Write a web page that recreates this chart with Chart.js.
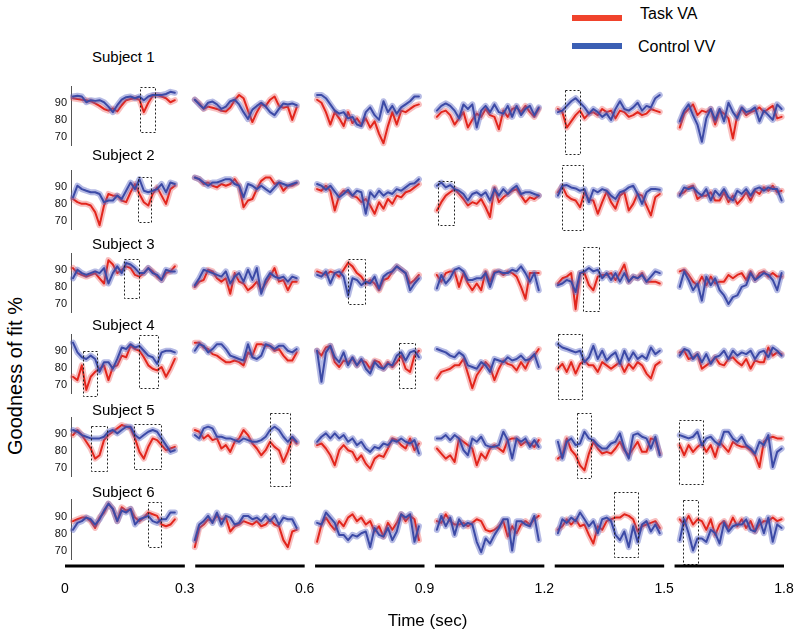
<!DOCTYPE html>
<html>
<head>
<meta charset="utf-8">
<script src="https://cdn.jsdelivr.net/npm/chart.js@4.4.0/dist/chart.umd.min.js"></script>
<style>
  html, body { margin: 0; padding: 0; background: #fff; }
  #figure { position: relative; width: 800px; height: 638px; overflow: hidden;
            font-family: Arial, "Liberation Sans", Helvetica, sans-serif; color: #000; }
  #figure canvas { position: absolute; left: 0; }
  .subject { position: absolute; left: 92px; font-size: 15px; line-height: 15px; white-space: nowrap; }
  #ylabel { position: absolute; left: -85px; top: 365px; width: 200px; text-align: center;
            font-size: 20px; line-height: 22px; transform: rotate(-90deg); white-space: nowrap; }
  .legend-bar { position: absolute; left: 572px; width: 50px; height: 6px; }
  .legend-text { position: absolute; font-size: 16px; line-height: 16px; white-space: nowrap; }
</style>
</head>
<body>
<div id="figure"></div>
<script>
document.addEventListener("DOMContentLoaded", function() {
    const FONT = 'Arial, "Liberation Sans", Helvetica, sans-serif';

    // --- Chart data ---
    const subjects = ['Subject 1', 'Subject 2', 'Subject 3', 'Subject 4', 'Subject 5', 'Subject 6'];
    const seriesNames = ['Task VA', 'Control VV'];
    const timeTicks = [0, 0.3, 0.6, 0.9, 1.2, 1.5, 1.8];
    const yTicks = [70, 80, 90];

    // Task VA (red), six 0.3 s windows per subject
    const taskS1 = [
        [93.1,92.6,92.2,91.9,91.3,90,88.5,86.7,85.7,87,85.2,88.9,91.9,92.6,93.1,92.2,84.8,90.4,94.5,95,94.1,93.1,90.7,91.9],
        [92.2,90,86.7,88.1,87.4,86.7,85.6,85.2,87.6,91.9,95,93.1,85.7,78.9,84.8,89.3,88.5,92.2,94.1,88.5,87.4,88.1,80.2,87.6],
        [92.2,90.4,84.8,77.4,84.8,81.1,76.5,84.8,78.3,81.1,77.4,81.1,75.6,79.3,71.9,66.3,76.5,84.8,77.4,85.7,84.8,86.7,88.5,89.4],
        [82,84.8,85.7,83,77.4,81.1,84.8,75.6,80.2,83.9,82,86.7,83,82,74.6,85.7,82,86.7,87.6,84.8,88.5,84.8,82,86.7],
        [86.7,84.8,75.6,79.3,83,85.7,81.1,83.9,84.8,83,86.7,84.8,85.7,81.1,85.7,84.8,82,83,84.8,83,83.9,86.7,85.7,84.8],
        [75.6,83.9,86.7,89.4,83,85.7,84.8,86.7,77.4,85.7,83.9,81.1,69.1,83,86.7,83,84.8,85.7,87.6,84.8,86.7,88.5,81.1,82]
    ];
    const taskS2 = [
        [83.1,81.2,80.2,80.2,79.2,75.3,67.5,79.2,86.1,85.1,85.1,82.2,81.2,87.1,92,86.1,81.2,79.2,86.1,90,85.1,80.2,89,91],
        [95.9,94.9,92,92.9,91,90,92,91,92,94.9,91,78.2,82.2,83.1,89,93.9,95.9,95.9,92,92.9,88,91,91,92.5],
        [89,88,91,88,76.3,85.1,88,87.1,85.1,84.1,81.2,83.1,79.2,74.3,81.2,77.3,83.1,80.2,85.1,84.1,87.1,88,90,92],
        [76.3,81.2,85.1,87.1,89,86.1,83.1,79.2,81.2,80.2,83.1,78.2,72.4,90,81.2,84.1,86.1,88,89,85.1,81.2,84.1,83.1,85.1],
        [87.1,90.6,85.1,83.1,82.2,78.2,87.1,82.6,82.2,74.3,81.2,87.5,81.2,77.3,85.1,87.1,76.3,80.2,86.1,85.1,79.2,73.3,84.1,86.1],
        [86.1,87.1,90,91,83.1,85.1,85.1,87.1,82.2,82.2,87.1,81.2,85.1,80.2,83.1,87.1,82.2,88,86.1,90,88,91,87.1,88]
    ];
    const taskS3 = [
        [91.4,88.4,87.3,86.3,87.3,88.4,85.3,82.2,96.1,93.5,88.4,90.4,92.4,91.4,87.3,86.3,88.4,91.4,89.4,86.3,84.3,88.4,89.4,92.4],
        [80.2,83.3,84.3,90.4,89.4,85.3,83.3,85.3,76.1,88.4,83.3,82.2,78.2,80.2,83.3,78.2,82.2,86.3,91.4,83.3,84.3,78.2,83.3,83.3],
        [89.4,88.4,87.3,89.4,88.4,86.3,90.4,94.5,92.4,88.4,86.3,82.2,84.3,82.2,78.2,84.3,85.3,89.4,92.4,90.4,88.4,82.2,84.3,87.3],
        [87.3,83.3,88.4,89.4,89.4,80.2,88.4,82.2,78.2,82.2,78.2,89.4,83.3,89.4,89.4,87.3,89.4,88.4,86.3,80.2,73.1,88.4,88.4,88.4],
        [82.2,85.3,86.3,88.4,66.9,88.4,88.4,81.2,78.2,86.3,87.3,87.3,88.4,84.3,88.4,93.5,83.3,86.3,85.3,88.4,83.3,83.3,83.3,82.2],
        [89.4,90.4,87.3,83.3,81.2,86.3,81.2,86.3,82.2,83.3,83.3,87.3,85.3,87.3,88.4,84.3,89.4,84.3,88.4,89.4,86.3,88.4,86.3,86.3]
    ];
    const taskS4 = [
        [74.9,72.9,81.7,67.1,74.9,77.8,79.7,81.7,72.9,80.7,81.7,87.5,86.5,93.3,91.4,90.4,86.5,81.7,79.7,78.7,80.7,74.9,79.7,85.5],
        [95.2,95.2,92.3,91.4,88.4,87.5,85.5,83.6,83.6,84.6,83.6,81.7,89.4,87.5,94.3,94.3,93.3,93.3,90.4,91.4,87.5,84.6,84.6,89.4],
        [90.4,87.5,92.3,93.3,83.6,80.7,84.6,83.6,85.5,81.7,84.6,83.6,79.7,84.6,83.6,79.7,83.6,80.7,83.6,87.5,79.7,77.8,87.5,90.4],
        [73.9,77.8,78.7,79.7,81.7,81.7,85.5,76.8,68.1,75.8,79.7,83.6,80.7,72.9,79.7,84.6,82.6,81.7,78.7,83.6,79.7,85.5,87.5,91.4],
        [79.7,82.6,77.8,83.6,76.8,82.6,84.6,81.7,81.7,77.8,83.6,81.7,79.7,81.7,83.6,77.8,82.6,79.7,83.6,81.7,76.8,73.9,81.7,83.6],
        [89.4,90.4,85.5,86.5,88.4,79.7,81.7,83.6,86.5,82.6,81.7,85.5,86.5,83.6,81.7,85.5,79.7,84.6,83.6,83.6,92.3,87.5,89.4,88.4]
    ];
    const taskS5 = [
        [89.6,92.6,89.6,85.6,81.6,75.6,77.6,86.6,89.6,91.6,93.6,95.6,94.6,93.6,87.6,79.6,75.6,82.6,87.6,86.6,83.6,80.6,81.6,82.6],
        [92.6,91.6,87.6,89.6,86.6,87.6,81.6,83.6,79.6,85.6,87.6,92.6,89.6,84.6,81.6,77.6,80.6,85.6,82.6,80.6,73.6,79.6,87.6,84.6],
        [83.6,84.6,81.6,77.6,71.6,80.6,83.6,80.6,79.6,74.6,77.6,72.6,69.6,75.6,77.6,76.6,81.6,87.6,86.6,83.6,81.6,87.6,80.6,84.6],
        [81.6,78.6,75.6,77.6,73.6,87.6,85.6,83.6,81.6,71.6,78.6,75.6,81.6,83.6,81.6,79.6,86.6,87.6,87.6,83.6,85.6,84.6,82.6,86.6],
        [75.6,77.6,87.6,80.6,77.6,71.6,68.6,78.6,85.6,81.6,78.6,79.6,78.6,81.6,85.6,80.6,77.6,81.6,85.6,79.6,79.6,87.6,86.6,78.6],
        [83.6,77.6,83.6,79.6,82.6,84.6,79.6,83.6,76.6,85.6,82.6,79.6,85.6,83.6,82.6,82.6,80.6,77.6,70.6,85.6,87.6,88.6,87.6,87.6]
    ];
    const taskS6 = [
        [87.3,88.4,89.4,89.4,87.3,83.3,89.4,92.4,97.6,94.5,87.3,95.5,93.5,94.5,89.4,87.3,89.4,92.4,91.4,90.4,85.3,84.3,85.3,88.4],
        [72,83.3,85.3,88.4,87.3,90.4,88.4,89.4,81.2,84.3,85.3,87.3,86.3,85.3,87.3,84.3,85.3,88.4,85.3,84.3,76.1,72,81.2,82.2],
        [75.1,85.3,89.4,85.3,82.2,87.3,84.3,89.4,91.4,87.3,89.4,85.3,87.3,81.2,84.3,78.2,86.3,82.2,86.3,91.4,87.3,90.4,88.4,76.1],
        [87.3,86.3,91.4,87.3,85.3,85.3,86.3,84.3,86.3,88.4,87.3,82.2,81.2,82.2,84.3,87.3,78.2,84.3,80.2,85.3,87.3,85.3,88.4,90.4],
        [82.2,84.3,88.4,85.3,88.4,84.3,85.3,79.2,74.1,84.3,82.2,87.3,88.4,89.4,89.4,91.4,90.4,88.4,81.2,84.3,85.3,86.3,87.3,83.3],
        [88.4,85.3,90.4,85.3,88.4,87.3,82.2,88.4,79.2,85.3,87.3,83.3,89.4,84.3,88.4,83.3,87.3,81.2,85.3,87.3,87.3,89.4,87.3,88.4]
    ];

    // Control VV (blue)
    const controlS1 = [
        [94.1,94.5,94.1,90.7,91.9,91.5,91.9,90.7,88.1,84.8,88.9,92.2,93.7,94.1,93.1,94.1,91.9,94.1,95,95,95,95.6,96.9,96.3],
        [92.2,89.4,87,90.4,91.1,89.4,86.7,88.1,91.3,92.2,89.4,84.8,80.7,86.3,88.5,90.4,88.1,84.8,83,86.7,90,89.4,90,88.9],
        [95,95,93.1,89.4,85.7,83.9,84.8,81.1,82,77.4,76.5,84.8,87.6,83,80.2,91.3,84.8,88.5,83.9,87.6,89.4,91.3,94.1,94.1],
        [85.7,88.5,90,88.5,85.7,81.1,89.4,86.7,89.4,75.6,85.7,88.5,84.8,89.4,84.8,83.9,88.5,82,88.5,83,86.7,88.5,83,87.6],
        [84.8,85.7,88.5,91.3,93.1,90.4,87.6,83.9,86.7,84.8,82,83.9,80.2,86.7,91.3,86.7,85.7,87.6,90.4,85.7,88.5,87.6,93.1,95],
        [79.3,85.7,89.4,83,77.4,67.2,81.1,86.7,80.2,86.7,79.3,90.4,84.8,81.1,87.6,84.8,85.7,87.6,79.3,85.7,83,80.2,89.4,86.7]
    ];
    const controlS2 = [
        [84.1,91,89,88,87.1,87.1,86.1,81.2,82.2,82.2,85.1,83.1,88,92.9,89,94.9,88,87.1,88,89,92,87.1,92.9,92],
        [95.9,94.9,92.9,91,92.9,92.9,93.9,94.9,94.9,92,91,84.1,92,91,89,91,89,87.1,90,92.9,92,91,92,92.9],
        [92,91,88.6,91,87.5,84.1,86.1,88.6,85.1,88,87.1,74.3,87.1,84.1,88,85.1,87.1,86.1,89,88,90,92,92.5,94.9],
        [91,92.9,90,91.4,89,88,86.1,82.2,86.1,87.1,85.1,87.1,82.2,89,85.1,89,86.1,89,91,86.1,87.1,87.1,86.1,85.1],
        [85.1,91,91.4,90,89.4,88,89,81.2,88.6,87.1,89,88,85.1,83.1,87.1,88,90,91,86.1,80.2,87.1,89,89,88.6],
        [85.1,90,89,90,87.1,85.1,89,82.2,88,85.1,89,84.1,82.2,88,86.1,89,85.1,89,90,88,90,89,89,82.2]
    ];
    const controlS3 = [
        [85.3,90.4,88.4,87.3,88.4,89.4,88.4,91.4,82.2,88.4,92.4,88.4,94.5,93.5,91.4,88.4,88.4,91.4,88.4,87.3,84.3,90.4,89.4,89.4],
        [81.2,85.3,90.4,89.4,88.4,87.3,86.3,89.4,82.2,86.3,88.4,83.3,90.4,84.3,91.4,76.1,84.3,88.4,86.3,85.3,86.3,83.3,86.3,85.3],
        [87.3,86.3,89.4,82.2,88.4,89.4,86.3,75.1,85.3,84.3,81.2,83.3,82.2,86.3,79.2,86.3,88.4,89.4,92.4,90.4,88.4,78.2,82.2,85.3],
        [79.2,87.3,82.2,85.3,90.4,91.4,89.4,84.3,84.3,85.3,85.3,88.4,80.2,88.4,89.4,88.4,88.4,90.4,89.4,92.4,88.4,83.3,88.4,78.2],
        [81.2,82.2,84.3,83.3,77.1,88.4,89.4,91.4,89.4,90.4,85.3,88.4,84.3,88.4,83.3,88.4,83.3,86.3,85.3,87.3,83.3,86.3,89.4,88.4],
        [80.2,89.4,84.3,78.2,82.2,72,86.3,81.2,85.3,78.2,75.1,70,74.1,75.1,80.2,81.2,88.4,84.3,86.3,88.4,87.3,84.3,78.2,88.4]
    ];
    const controlS4 = [
        [95.2,89.4,86.5,85.5,87.5,85.5,77.8,83.6,83.6,79.7,85.5,92.3,91.4,94.3,92.3,93.3,90.4,87.5,86.5,82.6,89.4,90.4,90.4,89.4],
        [90.4,94.3,93.3,89.4,91.4,94.3,94.3,91.4,87.5,86.5,85.5,84.6,94.3,86.5,85.5,87.5,94.3,93.3,91.4,93.3,93.3,90.4,89.4,91.4],
        [90.4,71.9,89.4,93.3,86.5,83.6,89.4,81.7,86.5,81.7,85.5,79.7,76.8,83.6,80.7,79.7,82.6,81.7,87.5,89.4,84.6,89.4,90.4,86.5],
        [91.4,90.4,89.4,87.5,86.5,89.4,87.5,81.7,80.7,79.7,83.6,81.7,77.8,85.5,84.6,83.6,86.5,84.6,85.5,87.5,84.6,85.5,88.4,80.7],
        [94.3,92.3,91.4,90.4,89.4,90.4,83.6,86.5,93.3,85.5,90.4,84.6,87.5,89.4,82.6,90.4,84.6,89.4,85.5,87.5,85.5,92.3,88.4,90.4],
        [87.5,91.4,90.4,85.5,88.4,83.6,88.4,82.6,86.5,87.5,90.4,85.5,90.4,87.5,89.4,88.4,90.4,85.5,89.4,90.4,86.5,92.3,90.4,87.5]
    ];
    const controlS5 = [
        [92.6,91.6,89.6,88.6,87.6,87.6,87.6,88.6,91.6,92.6,90.6,92.6,94.6,94.6,89.6,87.6,89.6,91.6,92.6,91.6,87.6,83.6,79.6,80.6],
        [89.6,87.6,93.6,94.6,93.6,88.6,88.6,87.6,87.6,86.6,85.6,87.6,86.6,85.6,85.6,86.6,88.6,92.6,94.6,92.6,88.6,85.6,88.6,85.6],
        [85.6,88.6,90.6,87.6,90.6,87.6,89.6,85.6,87.6,83.6,85.6,81.6,79.6,82.6,81.6,84.6,83.6,86.6,85.6,87.6,85.6,84.6,86.6,78.6],
        [87.6,87.6,89.6,86.6,89.6,87.6,80.6,77.6,87.6,85.6,88.6,83.6,82.6,82.6,83.6,91.6,86.6,75.6,87.6,85.6,87.6,82.6,86.6,82.6],
        [85.6,75.6,85.6,87.6,83.6,84.6,91.6,87.6,86.6,83.6,81.6,81.6,84.6,85.6,90.6,81.6,75.6,89.6,90.6,88.6,87.6,81.6,88.6,77.6],
        [89.6,88.6,87.6,88.6,91.6,83.6,87.6,88.6,85.6,83.6,91.6,91.6,87.6,85.6,88.6,83.6,81.6,78.6,85.6,83.6,89.6,70.6,79.6,81.6]
    ];
    const controlS6 = [
        [82.2,86.3,87.3,89.4,88.4,85.3,88.4,93.5,97.6,94.5,87.3,93.5,92.4,94.5,85.3,88.4,89.4,90.4,87.3,86.3,88.4,88.4,92.4,92.4],
        [76.1,85.3,87.3,90.4,86.3,92.4,85.3,90.4,89.4,85.3,86.3,90.4,90.4,88.4,89.4,87.3,90.4,87.3,90.4,85.3,89.4,88.4,88.4,83.3],
        [86.3,85.3,92.4,89.4,86.3,79.2,79.2,76.1,79.2,78.2,80.2,81.2,72,83.3,79.2,78.2,83.3,76.1,81.2,91.4,89.4,91.4,75.1,84.3],
        [82.2,90.4,84.3,89.4,79.2,88.4,84.3,86.3,85.3,75.1,69,77.1,74.1,79.2,83.3,88.4,88.4,70,87.3,87.3,85.3,84.3,90.4,76.1],
        [80.2,88.4,86.3,89.4,87.3,92.4,88.4,84.3,87.3,80.2,88.4,89.4,87.3,79.2,76.1,81.2,72,84.3,75.1,85.3,87.3,81.2,85.3,80.2],
        [76.1,88.4,80.2,70,77.1,77.1,75.1,82.2,80.2,74.1,86.3,81.2,84.3,85.3,85.3,88.4,82.2,81.2,88.4,80.2,89.4,75.1,85.3,83.3]
    ];

    // Dotted windows: [start sec, end sec, low %, high %]
    const boxesS1 = [[0.188, 0.225, 73.1, 100], [1.252, 1.289, 59.8, 98]];
    const boxesS2 = [[0.182, 0.215, 69.2, 96], [0.933, 0.975, 67.5, 94.1], [1.244, 1.298, 64.6, 103.4]];
    const boxesS3 = [[0.148, 0.184, 73.5, 96.8], [0.709, 0.751, 70, 96.8], [1.298, 1.338, 65.8, 104]];
    const boxesS4 = [[0.044, 0.081, 63.4, 90], [0.184, 0.232, 68.3, 99.9], [0.835, 0.876, 68.3, 94.8], [1.234, 1.294, 61.9, 100.3]];
    const boxesS5 = [[0.065, 0.104, 68.5, 95.2], [0.173, 0.24, 69.7, 96.2], [0.513, 0.563, 59.4, 103], [1.283, 1.317, 63.8, 102.6], [1.537, 1.597, 60.3, 98.7]];
    const boxesS6 = [[0.209, 0.24, 71.8, 98.5], [1.375, 1.435, 66, 104.4], [1.548, 1.584, 62.1, 99.5]];

    const taskRows = [taskS1, taskS2, taskS3, taskS4, taskS5, taskS6];
    const controlRows = [controlS1, controlS2, controlS3, controlS4, controlS5, controlS6];
    const boxRows = [boxesS1, boxesS2, boxesS3, boxesS4, boxesS5, boxesS6];

    // --- Layout ---
    const COLORS = {
        taskLine: '#e2261d',
        taskBand: 'rgba(238, 100, 100, 0.42)',
        controlLine: '#3c4aa6',
        controlBand: 'rgba(92, 102, 196, 0.45)',
        taskLegend: '#f0432c',
        controlLegend: '#3b5fb4'
    };
    const ROW_TOP = [86, 170, 253, 334, 417, 499];   // pixel of 100 %
    const SUBJECT_TOP = [49, 147, 236, 317, 402, 484];
    const PANEL_T0 = [0.02, 0.325, 0.631, 0.931, 1.234, 1.539];
    const PANEL_SPAN = 0.255;
    const AXIS_GAP = 0.026;
    const X_MIN = 0.015;      // y axis line sits just right of t = 0
    const Y_AXIS_W = 71;

    const fig = document.getElementById('figure');

    // legend
    [[COLORS.taskLegend, 15, 640, 6], [COLORS.controlLegend, 43, 638, 39]].forEach((spec, i) => {
        const bar = document.createElement('div');
        bar.className = 'legend-bar';
        bar.style.top = spec[1] + 'px';
        bar.style.background = spec[0];
        fig.appendChild(bar);
        const txt = document.createElement('div');
        txt.className = 'legend-text';
        txt.style.left = spec[2] + 'px';
        txt.style.top = spec[3] + 'px';
        txt.textContent = seriesNames[i];
        fig.appendChild(txt);
    });

    const ylab = document.createElement('div');
    ylab.id = 'ylabel';
    ylab.textContent = 'Goodness of fit %';
    fig.appendChild(ylab);

    function toPoints(panels) {
        const pts = [];
        panels.forEach((vals, k) => {
            const step = PANEL_SPAN / (vals.length - 1);
            vals.forEach((v, i) => pts.push({ x: PANEL_T0[k] + i * step, y: v }));
            pts.push({ x: PANEL_T0[k] + PANEL_SPAN + 0.01, y: null });
        });
        return pts;
    }

    const boxPlugin = {
        id: 'dottedBoxes',
        afterDatasetsDraw(chart, args, opts) {
            const { ctx, scales: { x, y } } = chart;
            ctx.save();
            ctx.setLineDash([2, 2]);
            ctx.lineWidth = 1;
            ctx.strokeStyle = '#222';
            (opts.boxes || []).forEach(([t0, t1, lo, hi]) => {
                const x0 = Math.round(x.getPixelForValue(t0)) + 0.5;
                const x1 = Math.round(x.getPixelForValue(t1)) + 0.5;
                const y0 = Math.round(y.getPixelForValue(hi)) + 0.5;
                const y1 = Math.round(y.getPixelForValue(lo)) + 0.5;
                ctx.strokeRect(x0, y0, x1 - x0, y1 - y0);
            });
            ctx.restore();
        }
    };

    const timeAxisPlugin = {
        id: 'timeSegments',
        afterDraw(chart, args, opts) {
            if (!opts.show) return;
            const { ctx, chartArea, scales: { x } } = chart;
            const yPix = chartArea.bottom + 7;
            ctx.save();
            ctx.strokeStyle = '#000';
            ctx.lineWidth = 3;
            for (let k = 0; k < timeTicks.length - 1; k++) {
                const a = k === 0 ? timeTicks[0] : timeTicks[k] + AXIS_GAP;
                ctx.beginPath();
                ctx.moveTo(x.getPixelForValue(a), yPix);
                ctx.lineTo(x.getPixelForValue(timeTicks[k + 1]), yPix);
                ctx.stroke();
            }
            ctx.restore();
        }
    };

    subjects.forEach((name, r) => {
        const isLast = r === subjects.length - 1;

        const label = document.createElement('div');
        label.className = 'subject';
        label.style.top = SUBJECT_TOP[r] + 'px';
        label.textContent = name;
        fig.appendChild(label);

        const canvas = document.createElement('canvas');
        const h = isLast ? 638 - (ROW_TOP[r] - 10) : 80;
        canvas.width = 800;
        canvas.height = h;
        canvas.style.top = (ROW_TOP[r] - 10) + 'px';
        canvas.style.width = '800px';
        canvas.style.height = h + 'px';
        fig.appendChild(canvas);

        const red = toPoints(taskRows[r]);
        const blue = toPoints(controlRows[r]);
        const line = (data, color, width, order, label) => ({
            label, data, borderColor: color, borderWidth: width, order,
            pointRadius: 0, tension: 0, fill: false, clip: false,
            borderJoinStyle: 'round', borderCapStyle: 'round', spanGaps: false
        });

        new Chart(canvas.getContext('2d'), {
            type: 'line',
            data: {
                datasets: [
                    line(blue, COLORS.controlLine, 2, 0, seriesNames[1]),
                    line(blue, COLORS.controlBand, 6, 1, seriesNames[1] + ' band'),
                    line(red, COLORS.taskLine, 2, 2, seriesNames[0]),
                    line(red, COLORS.taskBand, 6, 3, seriesNames[0] + ' band')
                ]
            },
            options: {
                responsive: false,
                animation: false,
                events: [],
                layout: { padding: { top: 10, bottom: isLast ? 0 : 10, left: 0, right: 16 } },
                plugins: {
                    legend: { display: false },
                    tooltip: { enabled: false },
                    dottedBoxes: { boxes: boxRows[r] },
                    timeSegments: { show: isLast }
                },
                scales: {
                    x: {
                        type: 'linear',
                        min: X_MIN,
                        max: 1.8,
                        display: isLast,
                        afterBuildTicks: s => { s.ticks = timeTicks.map(v => ({ value: v })); },
                        afterFit: s => { if (isLast) s.height = 79; },
                        // tick marks hidden; their length only pushes the labels down
                        grid: { display: false, drawTicks: true, tickLength: 22 },
                        border: { display: false },
                        ticks: {
                            color: '#000', padding: 0, maxRotation: 0,
                            font: { size: 14, family: FONT },
                            callback: v => String(v)
                        },
                        title: {
                            display: true, text: 'Time (sec)', color: '#000',
                            font: { size: 17, family: FONT }, padding: { top: 0, bottom: 6 }
                        }
                    },
                    y: {
                        min: 65,
                        max: 100,
                        afterFit: s => { s.width = Y_AXIS_W; },
                        afterBuildTicks: s => { s.ticks = yTicks.map(v => ({ value: v })); },
                        grid: { display: false, drawTicks: false },
                        border: { display: true, color: '#555', width: 1 },
                        ticks: { color: '#111', padding: 4, font: { size: 11, family: FONT } }
                    }
                }
            },
            plugins: [boxPlugin, timeAxisPlugin]
        });
    });
});
</script>
</body>
</html>
